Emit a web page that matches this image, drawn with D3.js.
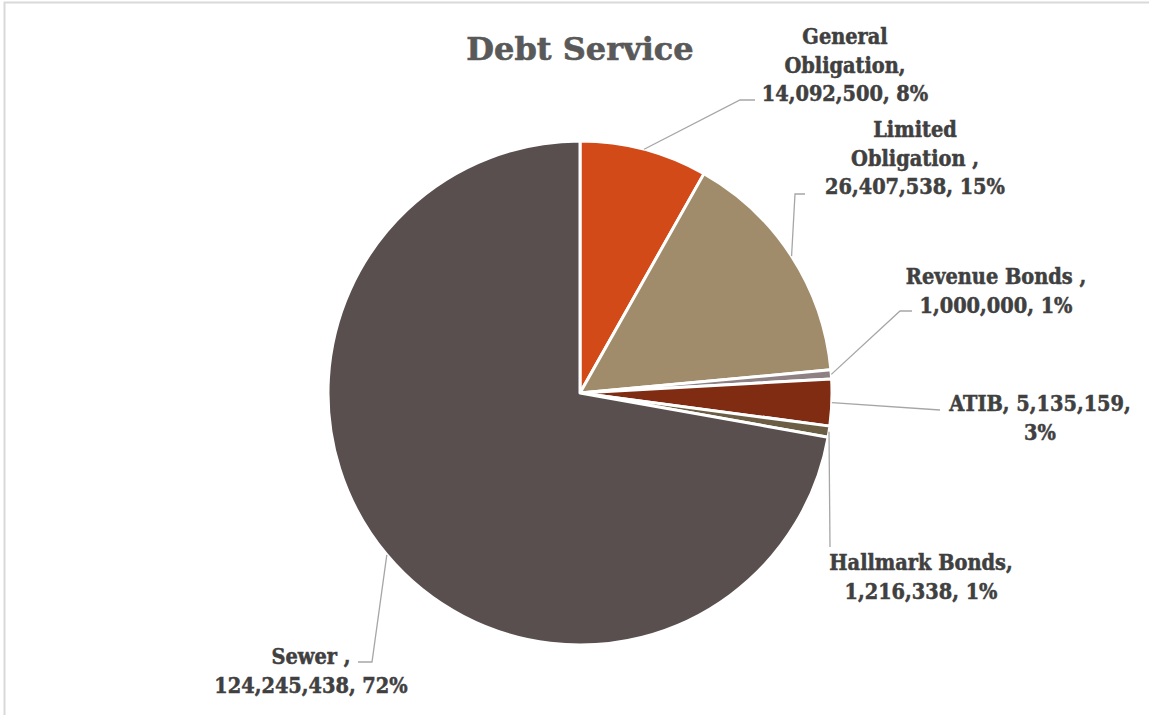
<!DOCTYPE html>
<html>
<head>
<meta charset="utf-8">
<script src="https://cdn.jsdelivr.net/npm/d3@7"></script>
<style>
  html, body { margin: 0; padding: 0; background: #fff; }
  svg { display: block; }
  .lbl { font-family: "DejaVu Serif Condensed", "DejaVu Serif", serif; font-weight: bold; fill: #404040; stroke: #404040; stroke-width: 0.5; }
  .title { font-family: "DejaVu Serif", serif; font-weight: bold; fill: #595959; stroke: #595959; stroke-width: 0.6; }
</style>
</head>
<body>
<svg id="chart" width="1149" height="715"></svg>
<script>
// Debt service by category
const categories = ["General Obligation", "Limited Obligation ", "Revenue Bonds ", "ATIB", "Hallmark Bonds", "Sewer "];
const amounts = [14092500, 26407538, 1000000, 5135159, 1216338, 124245438];
const colors = ["#D24A17", "#A08C6A", "#8F8083", "#7F2C12", "#6B5E45", "#594F4F"];

// Label placement: centre of text block, first baseline, words per line,
// and the elbow / end of the leader line
const labelLayout = [
  { cx: 845, y: 44,  lines: [1, 1, 2], elbow: [740, 100], end: [755, 100] },
  { cx: 915, y: 137, lines: [1, 2, 2], elbow: [795, 194], end: [805, 194] },
  { cx: 996, y: 284, lines: [3, 2],    elbow: [900, 311], end: [912, 311] },
  { cx: 1040, y: 411, lines: [2, 1],   elbow: [940, 410], end: [940, 410] },
  { cx: 921, y: 570, lines: [2, 2],    elbow: [830, 547], end: [830, 547] },
  { cx: 311, y: 664, lines: [2, 2],    elbow: [372, 662], end: [358, 662] }
];

const W = 1149, H = 715;
const svg = d3.select("#chart");

// light frame along top and left edges
svg.append("path")
  .attr("d", "M4.5,715 L4.5,2.5 L1149,2.5")
  .attr("fill", "none").attr("stroke", "#D9D9D9").attr("stroke-width", 2);

svg.append("text").attr("class", "title")
  .attr("x", 580).attr("y", 60)
  .attr("text-anchor", "middle")
  .attr("font-size", 32)
  .text("Debt Service");

const cx = 580, cy = 393, R = 252;
const data = categories.map((c, i) => ({ name: c, value: amounts[i], color: colors[i], layout: labelLayout[i] }));
const total = d3.sum(amounts);

const pie = d3.pie().value(d => d.value).sort(null);
const arcs = pie(data);
const arc = d3.arc().innerRadius(0).outerRadius(R);
const edge = d3.arc().innerRadius(R).outerRadius(R);

const g = svg.append("g").attr("transform", `translate(${cx},${cy})`);

g.selectAll("path.slice").data(arcs).enter().append("path")
  .attr("class", "slice")
  .attr("d", arc)
  .attr("fill", d => d.data.color)
  .attr("stroke", "#fff")
  .attr("stroke-width", 3)
  .attr("stroke-linejoin", "round");

// leader lines
g.selectAll("polyline.leader").data(arcs).enter().append("polyline")
  .attr("class", "leader")
  .attr("fill", "none")
  .attr("stroke", "#A6A6A6")
  .attr("stroke-width", 1.3)
  .attr("points", d => {
    const p0 = edge.centroid(d);
    const L = d.data.layout;
    return [p0, [L.elbow[0] - cx, L.elbow[1] - cy], [L.end[0] - cx, L.end[1] - cy]]
      .map(p => p.join(",")).join(" ");
  });

const fmt = d3.format(",");
const labels = svg.selectAll("text.lbl").data(arcs).enter().append("text")
  .attr("class", "lbl")
  .attr("text-anchor", "middle")
  .attr("font-size", 21.5);

labels.each(function (d) {
  const L = d.data.layout;
  const pct = Math.round(d.data.value / total * 100) + "%";
  const full = d.data.name + ", " + fmt(d.data.value) + ", " + pct;
  const words = full.split(/\s+/).filter(w => w.length);
  let k = 0;
  const t = d3.select(this);
  L.lines.forEach((n, i) => {
    t.append("tspan")
      .attr("x", L.cx)
      .attr("y", L.y + i * 28.6)
      .text(words.slice(k, k + n).join(" "));
    k += n;
  });
});
</script>
</body>
</html>
